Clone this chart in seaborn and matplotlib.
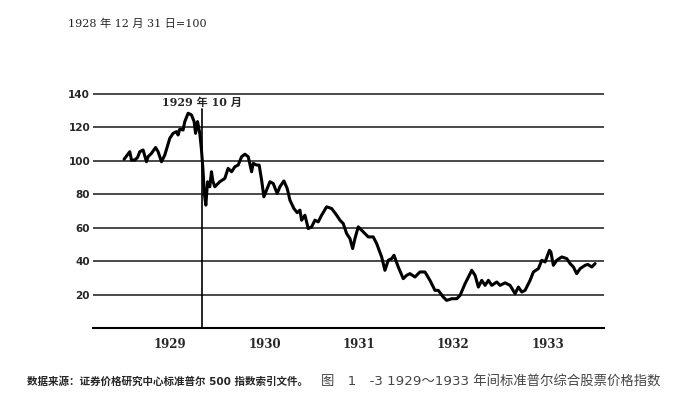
import numpy as np
import pandas as pd
import matplotlib
matplotlib.use("Agg")
import matplotlib.pyplot as plt
import matplotlib.ticker as mticker
import seaborn as sns

# S&P composite index, 1928-12-31 = 100 (decimal years)
years = [
    1929.011, 1929.071, 1929.089, 1929.124, 1929.153, 1929.177, 1929.212, 1929.248,
    1929.265, 1929.301, 1929.344, 1929.371, 1929.407, 1929.442, 1929.495, 1929.530,
    1929.566, 1929.583, 1929.601, 1929.636, 1929.654, 1929.689, 1929.725, 1929.753,
    1929.768, 1929.789, 1929.813, 1929.831, 1929.848, 1929.859, 1929.877, 1929.895,
    1929.901, 1929.919, 1929.937, 1929.951, 1929.972, 1930.025, 1930.078, 1930.113,
    1930.150, 1930.185, 1930.220, 1930.256, 1930.291, 1930.326, 1930.362, 1930.379,
    1930.415, 1930.442, 1930.468, 1930.492, 1930.521, 1930.556, 1930.591, 1930.633,
    1930.662, 1930.704, 1930.739, 1930.768, 1930.810, 1930.845, 1930.874, 1930.892,
    1930.927, 1930.962, 1930.998, 1931.033, 1931.068, 1931.104, 1931.157, 1931.210,
    1931.263, 1931.298, 1931.333, 1931.369, 1931.404, 1931.433, 1931.457, 1931.492,
    1931.528, 1931.563, 1931.598, 1931.651, 1931.687, 1931.740, 1931.775, 1931.810,
    1931.846, 1931.871, 1931.916, 1931.969, 1932.005, 1932.040, 1932.093, 1932.146,
    1932.199, 1932.252, 1932.305, 1932.340, 1932.393, 1932.429, 1932.482, 1932.536,
    1932.571, 1932.624, 1932.695, 1932.730, 1932.765, 1932.801, 1932.836, 1932.871,
    1932.907, 1932.960, 1932.995, 1933.048, 1933.101, 1933.154, 1933.189, 1933.225,
    1933.260, 1933.313, 1933.348, 1933.401, 1933.437, 1933.472, 1933.518, 1933.533,
    1933.560, 1933.596, 1933.649, 1933.702, 1933.737, 1933.772, 1933.807, 1933.843,
    1933.896, 1933.925, 1933.967, 1934.002,
]
index = [
    101, 105.5, 100.5, 100.5, 102, 105.5, 106.5, 99.5,
    102.5, 104.5, 108, 105.5, 99.5, 103.5, 113.5, 116.5,
    117.5, 115.5, 119, 118.5, 123.5, 128.5, 127.5, 123.5,
    116.5, 123.5, 116.5, 106.5, 93.5, 81.5, 73.5, 87.5,
    86.5, 84.5, 93.5, 88, 84.5, 87.5, 89.5, 95.5,
    93.5, 96.5, 97.5, 102.5, 104, 102.5, 93.5, 98.5,
    97.5, 97.5, 88.5, 78.5, 82.5, 87.5, 86.5, 80.5,
    84.5, 88, 83.5, 76.5, 71.5, 69, 70.5, 64.5,
    67.5, 59.5, 60.5, 64.5, 63.5, 67.5, 72.5, 71.5,
    67.5, 64.5, 62.5, 56.5, 53.5, 47.5, 53.5, 60.5,
    58.5, 56.5, 54.5, 54.5, 50.5, 42.5, 34.5, 40.5,
    41.5, 43.5, 36.5, 29.5, 31.5, 32.5, 30.5, 33.5,
    33.5, 28.5, 22.5, 22.5, 18.5, 16.5, 17.5, 17.5,
    19.5, 26.5, 34.5, 31.5, 24.5, 28.5, 25.5, 28.5,
    25.5, 27.5, 25.5, 27, 25.5, 20.5, 24.5, 21.5,
    22.5, 28.5, 33.5, 35.5, 40.5, 39.5, 46.5, 45.5,
    37.5, 40.5, 42.5, 41.5, 38.5, 36.5, 32.5, 35.5,
    37.5, 38, 36.5, 38.5,
]
year_labels = ["1929", "1930", "1931", "1932", "1933"]
y_ticks = [20, 40, 60, 80, 100, 120, 140]
crash_date = 1929.835
crash_label = "1929 年 10 月"
base_note = "1928 年 12 月 31 日=100"
source_note = "数据来源：证券价格研究中心标准普尔 500 指数索引文件。"
caption = "图　1　-3 1929～1933 年间标准普尔综合股票价格指数"

df = pd.DataFrame({"year": years, "index": index})

sns.set_style("white")
serif_cjk = ["DejaVu Serif", "Noto Sans CJK SC"]
plt.rcParams["font.family"] = ["DejaVu Sans", "Noto Sans CJK SC"]

fig = plt.figure(figsize=(6.73, 4.12), dpi=100)
ax = fig.add_axes([0.138, 0.204, 0.760, 0.588])

for v in y_ticks:
    ax.axhline(v, color="#3a3a3a", lw=1.3, zorder=1)

sns.lineplot(data=df, x="year", y="index", color="black", lw=2.2,
             estimator=None, sort=False, ax=ax, zorder=3)

ax.plot([crash_date, crash_date], [0, 131], color="black", lw=1.2, zorder=2)
ax.text(crash_date, 135, crash_label, ha="center", va="center",
        fontsize=8, fontweight="bold", family=serif_cjk)

ax.set_xlim(1928.68, 1934.1)
ax.set_ylim(0, 145)
ax.set_xlabel("")
ax.set_ylabel("")

ax.set_yticks(y_ticks)
ax.set_yticklabels([str(v) for v in y_ticks], fontsize=7.5, fontweight="bold")

ax.xaxis.set_major_locator(mticker.FixedLocator([1929, 1930, 1931, 1932, 1933, 1934]))
ax.xaxis.set_major_formatter(mticker.NullFormatter())
quarters = [y + q for y in range(1929, 1934) for q in (0.25, 0.5, 0.75)]
ax.xaxis.set_minor_locator(mticker.FixedLocator(quarters))
ax.xaxis.set_minor_formatter(mticker.FixedFormatter(
    [year_labels[i // 3] if i % 3 == 1 else "" for i in range(len(quarters))]))
for lab in ax.xaxis.get_minorticklabels():
    lab.set_fontsize(8.5)
    lab.set_fontweight("bold")
    lab.set_family(serif_cjk)

ax.tick_params(axis="x", which="major", direction="in", length=8, width=1.4,
               color="black", pad=6)
ax.tick_params(axis="x", which="minor", direction="in", length=5, width=1.2,
               color="black", pad=7)
ax.tick_params(axis="y", length=0, pad=2)

for s in ("top", "right", "left"):
    ax.spines[s].set_visible(False)
ax.spines["bottom"].set_color("black")
ax.spines["bottom"].set_linewidth(1.5)

fig.text(68 / 673, 1 - 24 / 412, base_note, ha="left", va="center",
         fontsize=8, family=serif_cjk)
fig.text(27 / 673, 1 - 382 / 412, source_note, ha="left", va="center",
         fontsize=7.6, fontweight="bold")
fig.text(321 / 673, 1 - 382 / 412, caption, ha="left", va="center",
         fontsize=9.6, color="#444444")

fig.savefig("out.png", dpi=100)
